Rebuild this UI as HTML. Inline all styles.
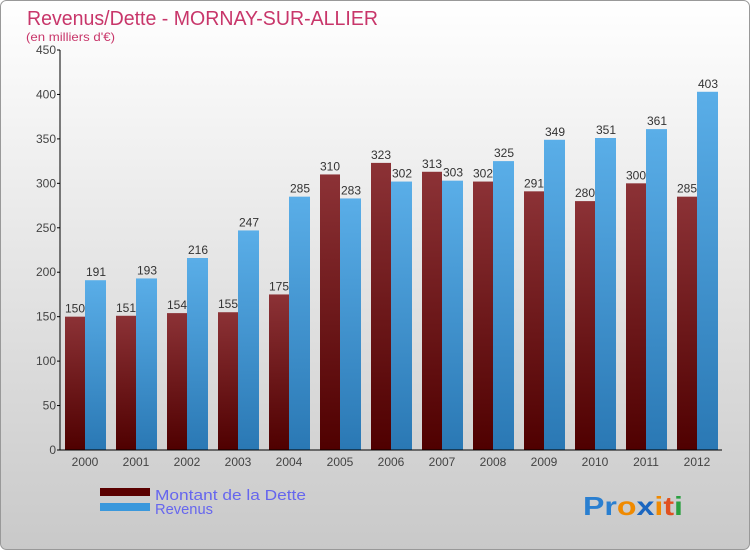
<!DOCTYPE html>
<html><head><meta charset="utf-8"><style>
body{margin:0}
#c{width:750px;height:550px;position:relative;overflow:hidden;font-family:"Liberation Sans",sans-serif;}
</style></head><body>
<div id="c">
<svg id="s" width="750" height="550" xmlns="http://www.w3.org/2000/svg">
<defs>
<linearGradient id="bg" x1="0" y1="0" x2="0" y2="1"><stop offset="0" stop-color="#ffffff"/><stop offset="1" stop-color="#c9c9c9"/></linearGradient>
<linearGradient id="gd" x1="0" y1="0" x2="0" y2="1"><stop offset="0" stop-color="#8c3236"/><stop offset="1" stop-color="#4f0000"/></linearGradient>
<linearGradient id="gr" x1="0" y1="0" x2="0" y2="1"><stop offset="0" stop-color="#5aaee8"/><stop offset="1" stop-color="#2a78b4"/></linearGradient>
</defs>
<rect x="0.5" y="0.5" width="749" height="549" rx="6" fill="url(#bg)" stroke="#999"/>
<text x="27" y="25" font-size="20" fill="#c8366a" textLength="351" lengthAdjust="spacingAndGlyphs">Revenus/Dette - MORNAY-SUR-ALLIER</text>
<text x="26" y="41" font-size="12" fill="#c8366a" textLength="89" lengthAdjust="spacingAndGlyphs">(en milliers d'€)</text>
<g id="plot"></g>
<rect x="100" y="488" width="50" height="8" fill="#5a0000"/>
<rect x="100" y="503" width="50" height="8" fill="#3a98dc"/>
<text x="155" y="500" font-size="15" fill="#6666ee" textLength="151" lengthAdjust="spacingAndGlyphs">Montant de la Dette</text>
<text x="155" y="514" font-size="15" fill="#6666ee" textLength="58" lengthAdjust="spacingAndGlyphs">Revenus</text>
<text x="583" y="515" font-size="26" font-weight="bold" textLength="100" lengthAdjust="spacingAndGlyphs"><tspan fill="#2a7fd0">Pr</tspan><tspan fill="#f08a00">o</tspan><tspan fill="#1a66c0">x</tspan><tspan fill="#f08a00">i</tspan><tspan fill="#e05020">t</tspan><tspan fill="#2aa040">i</tspan></text>
</svg>
</div>
<script>
const years=["2000","2001","2002","2003","2004","2005","2006","2007","2008","2009","2010","2011","2012"];
const dette=[150,151,154,155,175,310,323,313,302,291,280,300,285];
const revenus=[191,193,216,247,285,283,302,303,325,349,351,361,403];
const yTicks=[0,50,100,150,200,250,300,350,400,450];
const NS="http://www.w3.org/2000/svg";
const g=document.getElementById('plot');
const x0=60,x1=722,yb=450,yt=50,ymax=450,band=51;
const y=v=>yb-(v/ymax)*(yb-yt);
function el(t,a,txt){const e=document.createElementNS(NS,t);for(const k in a)e.setAttribute(k,a[k]);if(txt!==undefined)e.textContent=txt;g.appendChild(e);return e;}
yTicks.forEach(v=>{
 const l=el('line',{x1:x0-3,x2:x0,y1:y(v),y2:y(v),stroke:'#000'});
 
 
 const t=el('text',{x:x0-4,y:y(v)+4,'font-size':12,'text-anchor':'end',fill:'#444'},v);
 
 
});
years.forEach((yr,i)=>{
 const bx=x0+i*band;
 const d=el('rect',{x:bx+5,y:y(dette[i]),width:20,height:yb-y(dette[i]),fill:'url(#gd)'});
 
 
 const r=el('rect',{x:bx+25,y:y(revenus[i]),width:21,height:yb-y(revenus[i]),fill:'url(#gr)'});
 
 
 const dl=el('text',{x:bx+15,y:y(dette[i])-4,'font-size':12,'text-anchor':'middle',fill:'#333'},dette[i]);
 
 
 const rl=el('text',{x:bx+36,y:y(revenus[i])-4,'font-size':12,'text-anchor':'middle',fill:'#333'},revenus[i]);
 
 
 const xl=el('text',{x:bx+25,y:yb+16,'font-size':12,'text-anchor':'middle',fill:'#444'},yr);
 
 
});
const ya=el('line',{x1:x0,x2:x0,y1:yt,y2:yb,stroke:'#000'});


const xa=el('line',{x1:x0,x2:x1,y1:yb,y2:yb,stroke:'#000'});


</script>
</body></html>
